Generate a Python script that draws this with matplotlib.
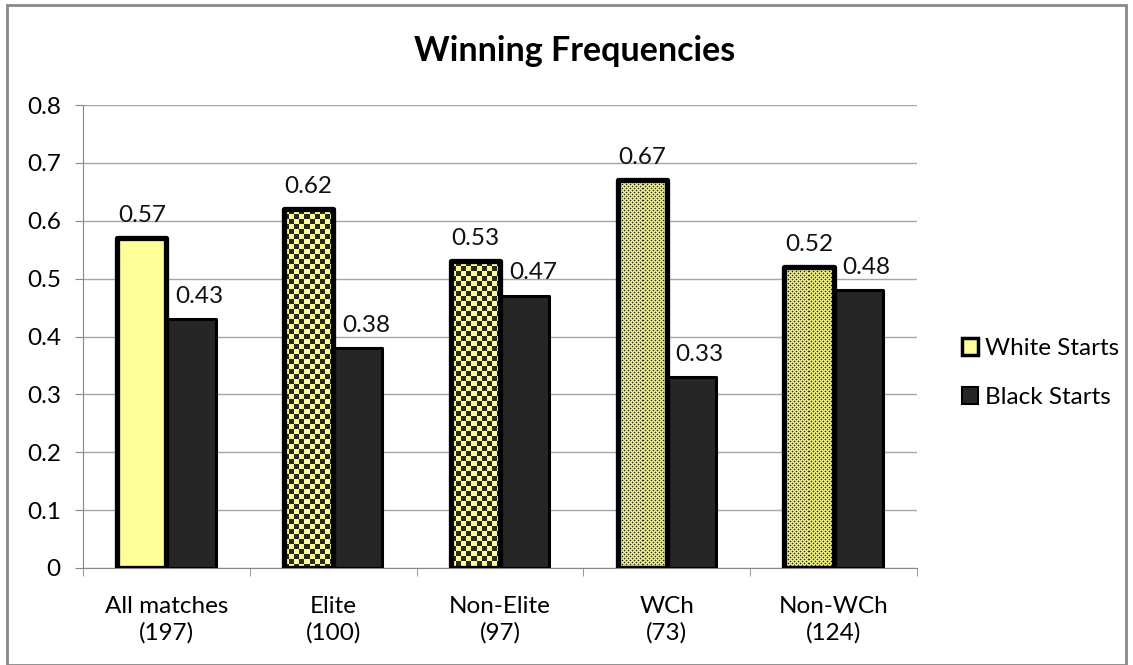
import numpy as np
import matplotlib
matplotlib.use("Agg")
from matplotlib import pyplot as plt
from matplotlib.colors import ListedColormap
from matplotlib.patches import Patch, Rectangle

# data
categories = ["All matches\n(197)", "Elite\n(100)", "Non-Elite\n(97)", "WCh\n(73)", "Non-WCh\n(124)"]
white_starts = [0.57, 0.62, 0.53, 0.67, 0.52]
black_starts = [0.43, 0.38, 0.47, 0.33, 0.48]
fill_style = ["plain", "checker", "checker", "fine", "fine"]

yellow = "#ffff99"
dark = "#262626"

plt.rcParams['font.family'] = ['Lato', 'DejaVu Sans']
fs = 17.5

fig = plt.figure(figsize=(11.33, 6.65), dpi=100)
ax = fig.add_axes([83/1133, 1-568/665, (917-83)/1133, (568-105)/665])

x = np.arange(len(categories))
w = 0.295

ax.set_xlim(-0.5, len(categories)-0.5)
ax.set_ylim(0, 0.8)

wbars = ax.bar(x - w/2, white_starts, w, color=yellow, edgecolor="none", zorder=2)
bbars = ax.bar(x + w/2, black_starts, w, color=dark, edgecolor="black", linewidth=2.2,
               joinstyle="round", zorder=3)

# pixel patterns inside the white bars
pat_cmap = ListedColormap([yellow, "#b4b468", "#2a2a18"])
for bar, style in zip(wbars, fill_style):
    if style == "plain":
        continue
    ext = bar.get_window_extent()
    wp, hp = int(round(ext.width)), int(round(ext.height))
    i, j = np.indices((hp, wp))
    if style == "checker":
        arr = 2.0 * ((i // 5 + j // 5) % 2)
    else:
        a, b = i % 4, j % 4
        centre = ((a == 0) & (b == 0)) | ((a == 2) & (b == 2))
        arm = ((a + b) % 2 == 1)
        arr = np.where(centre, 2.0, np.where(arm, 1.0, 0.0))
    x0, h = bar.get_x(), bar.get_height()
    im = ax.imshow(arr, extent=(x0, x0 + bar.get_width(), 0, h), cmap=pat_cmap,
                   vmin=0, vmax=2, aspect="auto", interpolation="nearest",
                   origin="upper", zorder=2.5)
    im.set_clip_path(bar)

# thick outlines on top of the white bars
ax.bar(x - w/2, white_starts, w, fill=False, edgecolor="black", linewidth=3.8,
       joinstyle="round", zorder=4)

ax.set_xlim(-0.5, len(categories)-0.5)
ax.set_ylim(0, 0.8)

for bars, dx in ((wbars, 0), (bbars, 6)):
    for bar in bars:
        ax.annotate(f"{bar.get_height():.2f}", (bar.get_x() + bar.get_width()/2, bar.get_height()),
                    xytext=(dx, 9), textcoords="offset points", ha="center", va="bottom",
                    fontsize=fs, color="#111111")

ax.set_yticks(np.arange(0, 0.81, 0.1))
ax.set_yticklabels(["0"] + [f"{v:.1f}" for v in np.arange(0.1, 0.81, 0.1)])
ax.yaxis.grid(True, color="#a6a6a6", linewidth=1)
ax.set_axisbelow(True)
ax.set_xticks(x)
ax.set_xticklabels(categories, linespacing=1.3)
ax.set_xticks(np.arange(-0.5, len(categories)), minor=True)
ax.tick_params(axis="x", which="major", length=0, labelsize=fs, pad=20)
ax.tick_params(axis="x", which="minor", length=6, color="#888888")
ax.tick_params(axis="y", length=6, color="#888888", labelsize=fs, pad=10)

for s in ("top", "right"):
    ax.spines[s].set_visible(False)
for s in ("left", "bottom"):
    ax.spines[s].set_color("#888888")

fig.text(575/1133, 1-51/665, "Winning Frequencies", ha="center", va="center",
         fontsize=24.5, fontweight="bold")

handles = [Patch(facecolor=yellow, edgecolor="black", linewidth=2.5),
           Patch(facecolor=dark, edgecolor="black", linewidth=1.5)]
fig.legend(handles, ["White Starts", "Black Starts"], loc="center left",
           bbox_to_anchor=(940/1133, 1-373/665), frameon=False, fontsize=fs,
           handlelength=0.65, handleheight=0.65, handletextpad=0.3, labelspacing=1.15)

fig.patches.append(Rectangle((7/1133, 0), 1-14/1133, 1-5/665, transform=fig.transFigure,
                             fill=False, edgecolor="#888888", linewidth=2))

fig.savefig("out.png", dpi=100)
